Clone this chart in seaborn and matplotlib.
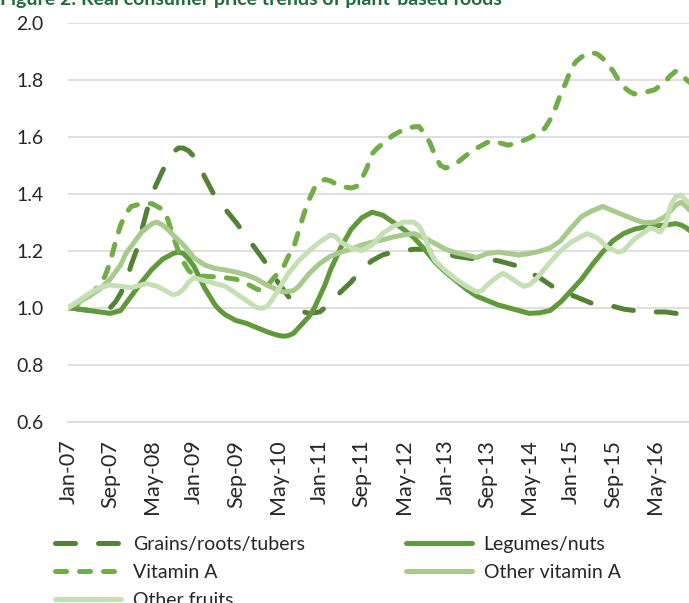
import numpy as np
import pandas as pd
import matplotlib
matplotlib.use("Agg")
import matplotlib.pyplot as plt
import seaborn as sns

# month index 0 = Jan-07
grains_m = [0, 2, 4, 6, 8, 9, 10, 11, 12, 13, 14, 15, 16, 17, 18, 19, 20, 21, 22, 23,
            24, 25, 26, 28, 30, 32, 34, 36, 38, 40, 42, 44, 46, 48, 50, 52, 54, 56, 58,
            60, 62, 64, 66, 68, 70, 72, 74, 76, 78, 80, 82, 84, 86, 88, 90, 92, 94, 96,
            98, 100, 102, 104, 106, 108, 110, 112, 114, 116, 118, 119]
grains_v = [1.00, 0.995, 0.99, 0.99, 1.00, 1.02, 1.05, 1.09, 1.15, 1.20, 1.27, 1.34, 1.40,
            1.44, 1.48, 1.515, 1.545, 1.56, 1.56, 1.55, 1.53, 1.50, 1.46, 1.39, 1.345, 1.30,
            1.25, 1.20, 1.15, 1.09, 1.04, 0.99, 0.98, 0.985, 1.015, 1.055, 1.09, 1.135,
            1.165, 1.185, 1.195, 1.20, 1.205, 1.205, 1.195, 1.19, 1.18, 1.175, 1.17, 1.17,
            1.165, 1.155, 1.145, 1.125, 1.105, 1.08, 1.055, 1.045, 1.03, 1.015, 1.01, 1.005,
            0.995, 0.99, 0.99, 0.985, 0.985, 0.98, 0.975, 0.97]

legumes_m = [0, 2, 4, 6, 8, 10, 12, 14, 16, 18, 20, 21, 22, 23, 24, 26, 28, 29, 30, 32,
             34, 36, 38, 40, 41, 42, 43, 44, 45, 46, 47, 48, 49, 50, 52, 54, 56, 58, 60,
             62, 64, 66, 68, 70, 72, 74, 76, 78, 80, 82, 84, 86, 88, 90, 92, 94, 96, 98,
             100, 102, 104, 106, 108, 110, 112, 114, 116, 117, 118, 119]
legumes_v = [1.00, 0.995, 0.99, 0.985, 0.98, 0.99, 1.04, 1.09, 1.135, 1.17, 1.19, 1.195,
             1.19, 1.17, 1.145, 1.07, 1.01, 0.99, 0.975, 0.955, 0.945, 0.93, 0.915, 0.903,
             0.90, 0.902, 0.91, 0.93, 0.95, 0.97, 1.00, 1.04, 1.08, 1.13, 1.21, 1.275, 1.315,
             1.335, 1.325, 1.30, 1.275, 1.245, 1.205, 1.16, 1.125, 1.095, 1.065, 1.04, 1.025,
             1.01, 1.00, 0.99, 0.98, 0.982, 0.99, 1.02, 1.06, 1.10, 1.15, 1.195, 1.235, 1.26,
             1.275, 1.283, 1.287, 1.29, 1.295, 1.29, 1.28, 1.265]

vita_m = [0, 2, 4, 6, 7, 8, 9, 10, 11, 12, 14, 16, 18, 19, 20, 21, 22, 23, 24, 26, 28, 30,
          32, 34, 36, 37, 38, 39, 40, 41, 42, 43, 44, 45, 46, 47, 48, 49, 50, 52, 54, 55,
          56, 57, 58, 59, 60, 62, 64, 66, 67, 68, 69, 70, 71, 72, 73, 74, 76, 78, 80, 81,
          82, 84, 86, 88, 90, 91, 92, 93, 94, 95, 96, 97, 98, 99, 100, 101, 102, 103, 104,
          105, 106, 107, 108, 110, 112, 114, 115, 116, 117, 118, 119]
vita_v = [1.00, 1.015, 1.04, 1.08, 1.11, 1.16, 1.23, 1.29, 1.33, 1.355, 1.365, 1.365, 1.345,
          1.31, 1.25, 1.20, 1.16, 1.13, 1.115, 1.11, 1.108, 1.105, 1.10, 1.085, 1.065, 1.06,
          1.075, 1.10, 1.12, 1.14, 1.18, 1.21, 1.27, 1.33, 1.38, 1.42, 1.44, 1.45, 1.445,
          1.425, 1.42, 1.425, 1.45, 1.49, 1.54, 1.56, 1.575, 1.605, 1.625, 1.635, 1.635,
          1.61, 1.58, 1.535, 1.50, 1.49, 1.495, 1.505, 1.535, 1.56, 1.58, 1.585, 1.58, 1.57,
          1.58, 1.595, 1.615, 1.63, 1.66, 1.70, 1.75, 1.79, 1.84, 1.865, 1.88, 1.89, 1.895,
          1.89, 1.875, 1.855, 1.83, 1.80, 1.775, 1.76, 1.75, 1.755, 1.765, 1.795, 1.815,
          1.83, 1.82, 1.80, 1.785]

othva_m = [0, 2, 4, 6, 8, 10, 11, 12, 14, 16, 17, 18, 19, 20, 22, 24, 26, 28, 30, 32, 34,
           36, 38, 40, 41, 42, 43, 44, 46, 48, 50, 52, 54, 56, 58, 60, 62, 64, 66, 68, 70,
           72, 74, 76, 78, 80, 82, 84, 86, 88, 90, 92, 94, 96, 98, 100, 102, 104, 106, 108,
           110, 112, 114, 115, 116, 117, 118, 119]
othva_v = [1.00, 1.02, 1.04, 1.065, 1.10, 1.15, 1.19, 1.215, 1.265, 1.295, 1.30, 1.29, 1.275,
           1.255, 1.22, 1.175, 1.15, 1.138, 1.132, 1.125, 1.115, 1.10, 1.078, 1.062, 1.055,
           1.057, 1.06, 1.075, 1.12, 1.155, 1.18, 1.195, 1.205, 1.22, 1.23, 1.238, 1.248,
           1.255, 1.26, 1.245, 1.225, 1.205, 1.193, 1.185, 1.176, 1.19, 1.195, 1.19, 1.185,
           1.19, 1.198, 1.21, 1.235, 1.28, 1.32, 1.34, 1.355, 1.34, 1.325, 1.31, 1.298, 1.30,
           1.32, 1.34, 1.36, 1.37, 1.355, 1.335]

fruits_m = [0, 2, 4, 6, 8, 10, 12, 14, 15, 17, 19, 20, 21, 22, 23, 24, 26, 28, 30, 32, 34,
            36, 37, 38, 39, 40, 42, 44, 46, 48, 50, 51, 52, 54, 56, 58, 60, 62, 64, 66, 67,
            68, 69, 70, 72, 74, 76, 78, 79, 80, 82, 83, 84, 86, 87, 88, 89, 90, 92, 94, 96,
            98, 99, 101, 103, 105, 106, 108, 110, 111, 112, 113, 114, 115, 116, 117, 118, 119]
fruits_v = [1.00, 1.025, 1.05, 1.07, 1.08, 1.075, 1.07, 1.08, 1.085, 1.075, 1.055, 1.045,
            1.05, 1.065, 1.09, 1.105, 1.095, 1.085, 1.075, 1.05, 1.025, 1.00, 0.998, 1.005,
            1.03, 1.06, 1.12, 1.165, 1.20, 1.23, 1.255, 1.25, 1.23, 1.21, 1.20, 1.22, 1.26,
            1.285, 1.30, 1.30, 1.285, 1.25, 1.20, 1.165, 1.13, 1.10, 1.075, 1.055, 1.06, 1.08,
            1.11, 1.12, 1.11, 1.085, 1.075, 1.08, 1.095, 1.115, 1.16, 1.20, 1.23, 1.25, 1.26,
            1.245, 1.21, 1.195, 1.20, 1.24, 1.265, 1.28, 1.275, 1.265, 1.29, 1.36, 1.39,
            1.395, 1.375, 1.36]

series_names = ["Grains/roots/tubers", "Legumes/nuts", "Vitamin A", "Other vitamin A", "Other fruits"]
tick_labels = ["Jan-07", "Sep-07", "May-08", "Jan-09", "Sep-09", "May-10", "Jan-11", "Sep-11",
               "May-12", "Jan-13", "Sep-13", "May-14", "Jan-15", "Sep-15", "May-16"]
tick_pos = list(range(0, 8 * len(tick_labels), 8))

colors = ["#548235", "#5f9b3a", "#70ad47", "#a6cb8c", "#c6e0b6"]
styles = [(0, (4.0, 4.6)), "-", (0, (2.2, 2.6)), "-", "-"]
data = [(grains_m, grains_v), (legumes_m, legumes_v), (vita_m, vita_v),
        (othva_m, othva_v), (fruits_m, fruits_v)]

sns.set_style("white")
plt.rcParams["font.family"] = ["Lato", "DejaVu Sans"]

fig = plt.figure(figsize=(6.89, 6.03), dpi=100)
ax = fig.add_axes([0.0991, 0.3007, 0.9009, 0.6617])

for name, (m, v), c, ls in zip(series_names, data, colors, styles):
    df = pd.DataFrame({"month": m, "value": v})
    sns.lineplot(data=df, x="month", y="value", ax=ax, color=c, linewidth=3.6,
                 linestyle=ls, dash_capstyle="round", solid_capstyle="round",
                 label=name, legend=False)

ax.set_xlim(0, 118.5)
ax.set_ylim(0.6, 2.0)
ax.set_yticks(np.arange(0.6, 2.01, 0.2))
ax.set_yticklabels([f"{t:.1f}" for t in np.arange(0.6, 2.01, 0.2)], fontsize=14)
ax.set_xticks(tick_pos)
ax.set_xticklabels(tick_labels, rotation=90, fontsize=15.5)
ax.set_xlabel("")
ax.set_ylabel("")
ax.grid(axis="y", color="#d9d9d9", linewidth=1.2)
ax.set_axisbelow(True)
for s in ["top", "right", "left"]:
    ax.spines[s].set_visible(False)
ax.spines["bottom"].set_color("#d9d9d9")
ax.spines["bottom"].set_linewidth(1.2)
ax.tick_params(axis="x", length=6, color="#d9d9d9", width=1.2, pad=7)
ax.tick_params(axis="y", length=0, pad=18)

fig.text(0.0, 1 - 5 / 603, "Figure 2: Real consumer price trends of plant-based foods",
         fontsize=14, fontweight="bold", color="#1e6b3c", va="baseline", ha="left")

handles, labels = ax.get_legend_handles_labels()
order = [0, 2, 4, 1, 3]
fig.legend([handles[i] for i in order], [labels[i] for i in order], ncol=2,
           loc="upper left", bbox_to_anchor=(0.0798, 0.111), frameon=False, fontsize=14,
           handlelength=3.4, handletextpad=0.6, labelspacing=0.56, columnspacing=5.2,
           borderaxespad=0, borderpad=0)

fig.savefig("out.png", dpi=100)
